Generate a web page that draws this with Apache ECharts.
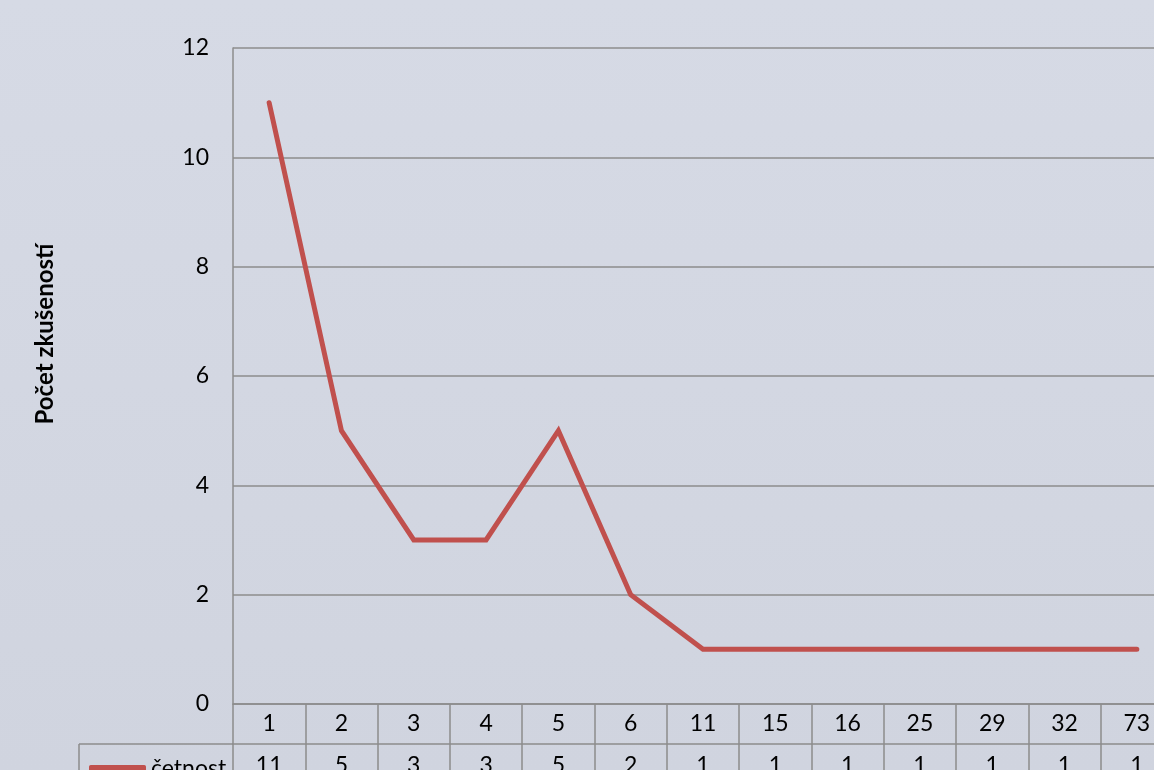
<!DOCTYPE html>
<html>
<head>
<meta charset="utf-8">
<script src="https://cdn.jsdelivr.net/npm/echarts@6/dist/echarts.min.js"></script>
<style>
  html, body { margin: 0; padding: 0; }
  #chart { width: 1154px; height: 770px; }
</style>
</head>
<body>
<div id="chart"></div>
<script>
// kategorie (počet zkušeností) a četnosti
var categories = ['1', '2', '3', '4', '5', '6', '11', '15', '16', '25', '29', '32', '73'];
var cetnost = [11, 5, 3, 3, 5, 2, 1, 1, 1, 1, 1, 1, 1];
var yTicks = { min: 0, max: 12, interval: 2 };

var font = 'Lato, "Open Sans", sans-serif';
var gray = '#8c8c8c';

var myChart = echarts.init(document.getElementById('chart'));
myChart.setOption({
  backgroundColor: {
    type: 'linear', x: 0, y: 0, x2: 0, y2: 1,
    colorStops: [{ offset: 0, color: '#d6dae5' }, { offset: 1, color: '#d0d4df' }]
  },
  animation: false,
  grid: { left: 233, top: 48, right: -19, bottom: 66, outerBoundsMode: 'none', containLabel: false },
  legend: {
    left: 84, top: 752,
    itemWidth: 57, itemHeight: 7, itemGap: 3,
    icon: 'roundRect',
    textStyle: { fontFamily: font, fontSize: 23, color: '#000' },
    data: ['četnost']
  },
  xAxis: [
    {
      type: 'category',
      data: categories,
      position: 'bottom',
      axisLine: { lineStyle: { color: gray, width: 1.5 } },
      axisTick: { show: true, length: 40, interval: 0, lineStyle: { color: gray, width: 1.5 } },
      axisLabel: { margin: 20, verticalAlign: 'middle', fontFamily: font, fontSize: 23, color: '#000', interval: 0 },
      splitLine: { show: false }
    },
    {
      type: 'category',
      data: cetnost.map(String),
      position: 'bottom',
      offset: 40,
      axisLine: { lineStyle: { color: gray, width: 1.5 } },
      axisTick: { show: true, length: 40, interval: 0, lineStyle: { color: gray, width: 1.5 } },
      axisLabel: { margin: 22, verticalAlign: 'middle', fontFamily: font, fontSize: 23, color: '#000', interval: 0 },
      splitLine: { show: false }
    }
  ],
  yAxis: {
    type: 'value',
    min: yTicks.min, max: yTicks.max, interval: yTicks.interval,
    name: 'Počet zkušeností',
    nameLocation: 'middle',
    nameRotate: 90,
    nameGap: 176,
    nameTextStyle: { fontFamily: font, fontSize: 24, fontWeight: 'bold', color: '#000', padding: [0, 0, 0, 84] },
    axisLine: { show: true, lineStyle: { color: gray, width: 1.5 } },
    axisTick: { show: false },
    axisLabel: { margin: 24, fontFamily: font, fontSize: 23, color: '#000' },
    splitLine: { lineStyle: { color: gray, width: 1.5 } }
  },
  // rámeček buňky legendy v datové tabulce
  graphic: [
    { type: 'line', shape: { x1: 79, y1: 744, x2: 233, y2: 744 }, style: { stroke: gray, lineWidth: 1.5 } },
    { type: 'line', shape: { x1: 79, y1: 744, x2: 79, y2: 790 }, style: { stroke: gray, lineWidth: 1.5 } }
  ],
  series: [
    {
      name: 'četnost',
      type: 'line',
      data: cetnost,
      symbol: 'none',
      color: '#c0504d',
      lineStyle: { width: 5, cap: 'round', join: 'miter' }
    }
  ]
});
</script>
</body>
</html>
